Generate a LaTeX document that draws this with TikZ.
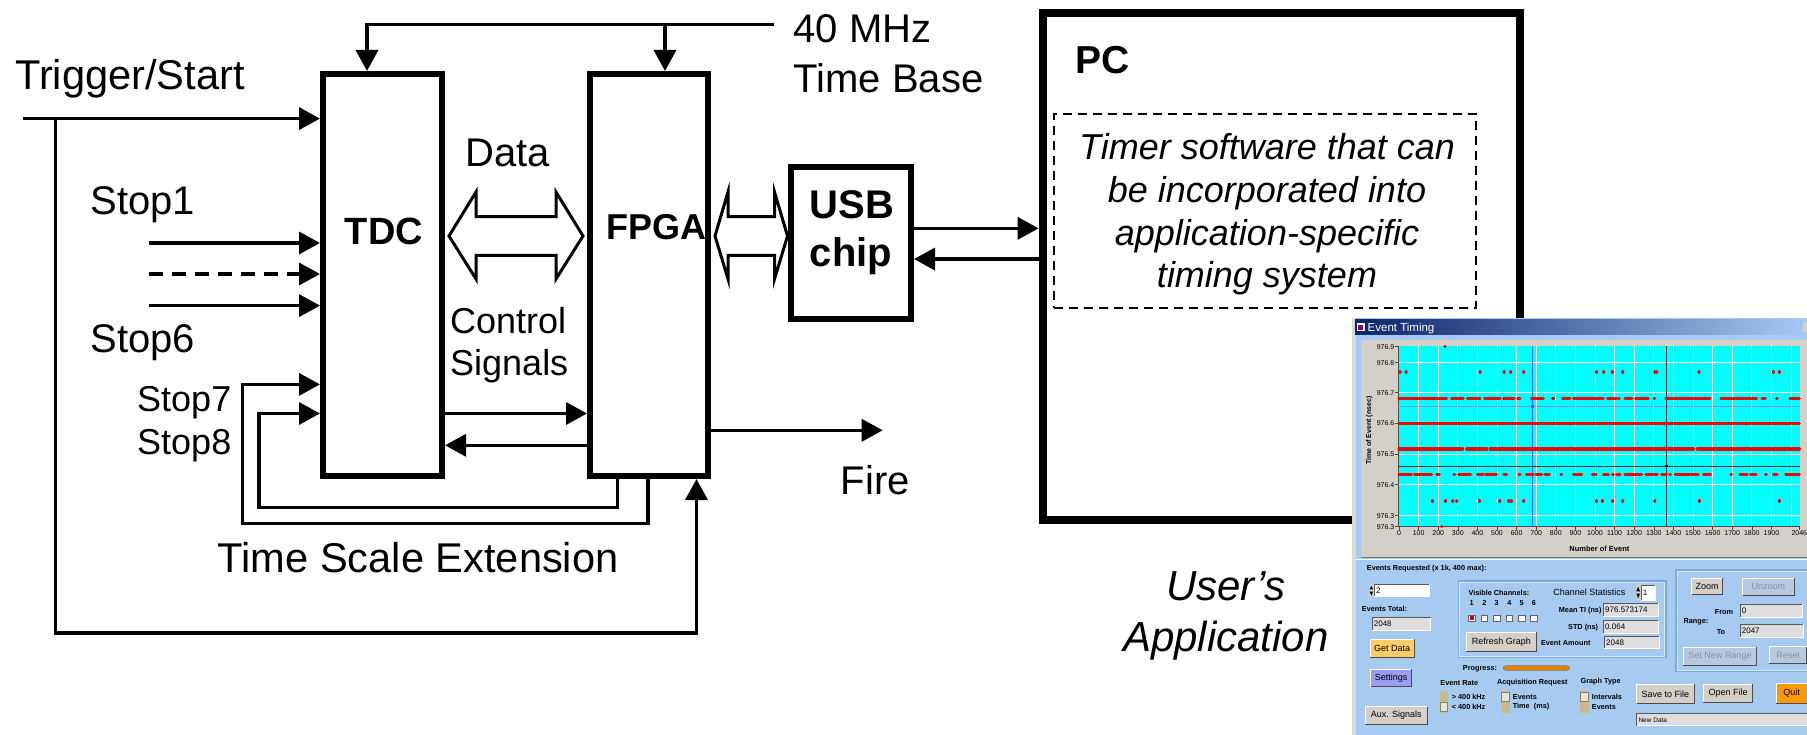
\documentclass[tikz,border=0pt]{standalone}
\usepackage{fontspec}
\setmainfont{Liberation Sans}
\usetikzlibrary{arrows.meta,calc}
\definecolor{wingray}{RGB}{212,208,200}
\definecolor{winblue}{RGB}{166,202,240}
\definecolor{titledark}{RGB}{10,36,106}
\definecolor{plotcyan}{RGB}{0,255,255}
\definecolor{dotred}{RGB}{255,0,0}
\definecolor{getdata}{RGB}{255,204,102}
\definecolor{settingsc}{RGB}{156,156,240}
\definecolor{quitc}{RGB}{255,153,0}
\definecolor{progc}{RGB}{224,128,0}
\definecolor{switchc}{RGB}{200,186,140}
\definecolor{knobc}{RGB}{236,228,204}
\definecolor{groupc}{RGB}{120,170,230}
\definecolor{disabledc}{RGB}{128,144,168}
\definecolor{disbtn}{RGB}{184,200,222}
\definecolor{cursorblue}{RGB}{70,100,255}
\newcommand\myfs[1]{\fontsize{#1}{#1}\selectfont}
\newcommand\mybtn[7]{%
  \fill[#5] (#1,#2) rectangle (#3,#4);
  \draw[white, line width=0.7pt] (#1,#4) -- (#1,#2) -- (#3,#2);
  \draw[black!70, line width=0.9pt] (#1,#4) -- (#3,#4) -- (#3,#2);
  \node[bt, text=#6] at ({(#1+#3)/2},{(#2+#4)/2}) {#7};}
\newcommand\mytbox[5]{%
  \fill[#5] (#1,#2) rectangle (#3,#4);
  \draw[black!65, line width=0.7pt] (#1,#4) -- (#1,#2) -- (#3,#2);
  \draw[white, line width=0.6pt] (#1,#4) -- (#3,#4) -- (#3,#2);}
\tikzset{
  blk/.style={draw, line width=6pt, inner sep=0pt},
  conn/.style={line width=3.5pt},
  arr/.style={conn, -{Triangle[length=21pt,width=22pt]}},
  hollow/.style={draw, line width=3pt, fill=white, line join=miter},
  lbl/.style={font={\myfs{40}}, inner sep=0pt, anchor=base west},
  ital/.style={font={\itshape\myfs{36}}, inner sep=0pt, anchor=base},
  redrun/.style={dotred, line width=3.2pt, line cap=round},
  ax/.style={font={\myfs{7}}, inner sep=0.5pt},
  sb/.style={font={\bfseries\myfs{7.3}}, inner sep=0pt},
  bt/.style={font={\myfs{9}}, inner sep=0pt},
  vt/.style={font={\myfs{8}}, inner sep=0pt, anchor=west}
}
\begin{document}
\begin{tikzpicture}[x=1pt,y=-1pt]
\useasboundingbox (0,0) rectangle (1807,735);
\fill[white] (0,0) rectangle (1807,735);

% ---------- blocks ----------
\node[blk, minimum width=119pt, minimum height=402pt] (tdc) at (382.5,275) {};
\node[blk, minimum width=118pt, minimum height=402pt] (fpga) at (649,275) {};
\node[blk, minimum width=120.5pt, minimum height=152.5pt] (usb) at (850.75,243.25) {};
\node[draw, line width=8pt, inner sep=0pt, minimum width=477.4pt, minimum height=506.6pt] (pc) at (1281.3,266.7) {};
\node[draw, line width=2pt, dash pattern=on 9pt off 6pt, inner sep=0pt, minimum width=422pt, minimum height=194pt] (sw) at (1265,211) {};

% ---------- block texts ----------
\node[font={\bfseries\myfs{38}}, inner sep=0pt, anchor=base] (tdct) at (384,245) {TDC};
\node[font={\bfseries\myfs{36}}, inner sep=0pt, anchor=base] (fpgat) at (656,240) {FPGA};
\node[font={\bfseries\myfs{40}}, inner sep=0pt, anchor=base] (usbt) at (852,219) {USB};
\node[font={\bfseries\myfs{40}}, inner sep=0pt, anchor=base] (chipt) at (851,267) {chip};
\node[font={\bfseries\myfs{39}}, inner sep=0pt, anchor=base west] (pct) at (1075,74) {PC};
\node[ital] (sw1) at (1267,159.4) {Timer software that can};
\node[ital] (sw2) at (1267,202.5) {be incorporated into};
\node[ital] (sw3) at (1267,246) {application-specific};
\node[ital] (sw4) at (1267,288) {timing system};
\node[ital, font={\itshape\myfs{42}}] (ua1) at (1226,600) {User’s};
\node[ital, font={\itshape\myfs{42}}] (ua2) at (1226,651.6) {Application};

% ---------- labels ----------
\node[lbl, font={\myfs{41.6}}] (trig) at (15,90) {Trigger/Start};
\node[lbl] (mhz) at (793.5,43) {40 MHz};
\node[lbl] (tbase) at (793.5,92.4) {Time Base};
\node[lbl] (data) at (465,167) {Data};
\node[lbl] (stop1) at (90.4,214.7) {Stop1};
\node[lbl] (stop6) at (90.4,352.5) {Stop6};
\node[lbl, font={\myfs{36}}] (stop7) at (137,411.6) {Stop7};
\node[lbl, font={\myfs{36}}] (stop8) at (137,454.7) {Stop8};
\node[lbl, font={\myfs{36}}] (ctrl) at (450,333.8) {Control};
\node[lbl, font={\myfs{36}}] (sig) at (450,375) {Signals};
\node[lbl] (fire) at (840.6,494.5) {Fire};
\node[lbl, font={\myfs{41.6}}] (tse) at (217.6,572.8) {Time Scale Extension};

% ---------- connectors ----------
\coordinate (clkend) at (773.5,24.4);
\draw[arr] (clkend) -| ([xshift=-15.5pt]tdc.north);
\coordinate (fpgaclk) at ([xshift=16pt]fpga.north);
\draw[arr] (fpgaclk |- clkend) -- (fpgaclk);

\coordinate (trigin) at (23.4,118.6);
\draw[arr] (trigin) -- (trigin -| tdc.west);
\coordinate (tjoin) at (55.6,118.6);
\coordinate (tbot) at (55.6,633);
\draw[arr] (tjoin) -- (tbot) -| ([xshift=47.5pt]fpga.south);

\coordinate (s1) at (148.7,243);
\coordinate (sd) at (148.7,274);
\coordinate (s6) at (148.7,305.6);
\draw[arr] (s1) -- (s1 -| tdc.west);
\draw[arr, dash pattern=on 14pt off 9pt] (sd) -- (sd -| tdc.west);
\draw[arr] (s6) -- (s6 -| tdc.west);

\coordinate (s7a) at (242.5,523.6);
\draw[arr] ([xshift=-1pt]fpga.south) |- (s7a) |- ([yshift=-109.4pt]tdc.west);
\coordinate (s8a) at (259,507.7);
\draw[arr] ([xshift=-31.5pt]fpga.south) |- (s8a) |- ([yshift=-138.5pt]tdc.west);

\draw[arr] ([yshift=-138.5pt]tdc.east) -- ([yshift=-138.5pt]fpga.west);
\draw[arr] ([yshift=-170.3pt]fpga.west) -- ([yshift=-170.3pt]tdc.east);
\coordinate (fireend) at (882.7,430.3);
\draw[arr] ([yshift=-155.3pt]fpga.east) -- (fireend);

\coordinate (u1) at ([yshift=14.9pt]usb.east);
\coordinate (u2) at ([yshift=-15.8pt]usb.east);
\draw[arr] (u1) -- (u1 -| pc.west);
\draw[arr] (u2 -| pc.west) -- (u2);

% hollow double arrows
\coordinate (dl) at ([xshift=4pt,yshift=39pt]tdc.east);
\coordinate (dr) at ([xshift=-4pt,yshift=39pt]fpga.west);
\draw[hollow] (dl) -- ++(27,-44) -- ++(0,24.6) -- ($(dr)+(-27,-19.4)$) -- ++(0,-24.6) -- (dr)
  -- ++(-27,43) -- ++(0,-23.5) -- ($(dl)+(27,19.5)$) -- ++(0,23.5) -- cycle;
\coordinate (ul) at ([xshift=4pt,yshift=39pt]fpga.east);
\coordinate (ur) at ([yshift=7.25pt]usb.west);
\draw[hollow] (ul) -- ++(13,-44) -- ++(0,24.6) -- ($(ur)+(-13,-19.4)$) -- ++(0,-24.6) -- (ur)
  -- ++(-13,43) -- ++(0,-23.5) -- ($(ul)+(13,19.5)$) -- ++(0,23.5) -- cycle;

% ---------- screenshot ----------
\begin{scope}
\clip (1352,318) rectangle (1807,735);
\fill[winblue] (1352,318) rectangle (1807,735);
\fill[black!15] (1352,318) rectangle (1356,735);
\shade[left color=titledark, right color=winblue] (1355,320) rectangle (1807,334.5);
\fill[white] (1356.5,323) rectangle (1364.5,331);
\fill[violet] (1358,325) rectangle (1363,329.5);
\node[font={\myfs{11.5}}, text=white, anchor=base west, inner sep=0pt] (ttl) at (1367.5,331.3) {Event Timing};
\fill[wingray] (1802.5,322) rectangle (1810,332);
\fill[wingray] (1360.7,340) rectangle (1807,557);
\draw[black!55, line width=1pt] (1360.7,557.5) -- (1807,557.5);
\draw[white, line width=0.8pt] (1356,559.5) -- (1807,559.5);

% plot (reference crop coordinates, 3x)
\begin{scope}[shift={(1340,310)}, scale=1/3]
\fill[plotcyan] (175,108) rectangle (1380,650);
\foreach \v in {100,200,...,2000} \draw[white, line width=0.9pt] ({177+\v*0.588},108) -- ({177+\v*0.588},650);
\foreach \yy in {158,248,340,433,524,617} \draw[white, line width=0.9pt] (175,\yy) -- (1380,\yy);
\draw[black!70, line width=0.6pt] (175,108) -- (175,650) -- (1380,650);
\foreach \yy/\t in {110/976.9,158/976.8,248/976.7,340/976.6,433/976.5,524/976.4,617/976.3,650/976.3} {
  \draw[black!70, line width=0.5pt] (165,\yy) -- (175,\yy);
  \node[ax, anchor=east] at (165,\yy) {\t};}
\foreach \v in {0,100,...,1900} {
  \draw[black!70, line width=0.5pt] ({177+\v*0.588},650) -- ({177+\v*0.588},660);
  \node[ax, anchor=north] at ({177+\v*0.588},661) {\v};}
\draw[black!70, line width=0.5pt] (1378,650) -- (1378,660);
\node[ax, anchor=north] at (1378,661) {2046};
\node[font={\bfseries\myfs{7.5}}, inner sep=0pt] (xlab) at (778,715) {Number of Event};
\node[font={\bfseries\myfs{7}}, inner sep=0pt, rotate=90] (ylab) at (88,362) {Time of Event (nsec)};
% cursors
\draw[cursorblue, line width=1pt] (577,108) -- (577,650);
\draw[cursorblue!70, line width=0.8pt] (175,290) -- (1380,290);
\draw[black!80, line width=0.8pt] (978,108) -- (978,650);
\draw[black!80, line width=0.8pt] (175,468) -- (1380,468);
% data
\draw[redrun] (177,340) -- (1378,340);
\foreach \a/\b in {177/368,380/440,450/1060,1072/1378} \draw[redrun] (\a,417) -- (\b,417);
\foreach \a/\b in {177/320,334/370,382/420,434/480,490/522,533/540,574/610,637/642,668/690,700/790,802/830,836/838,855/876,886/925,942/944,978/1110,1143/1250,1266/1276,1310/1312,1350/1378}
  \draw[redrun] (\a,265) -- (\b,265);
\foreach \a/\b in {177/215,223/275,290/298,342/344,355/392,412/430,437/470,492/500,537/540,560/580,588/605,615/628,663/665,700/725,757/768,790/805,817/820,830/840,855/905,918/952,965/980,990/992,1005/1050,1055/1075,1090/1112,1173/1175,1200/1222,1232/1248,1277/1279,1300/1312,1337/1378}
  \draw[redrun] (\a,493) -- (\b,493);
\foreach \a in {180,198,420,492,512,551,769,791,817,848,944,950,1077,1300,1318}
  \draw[redrun] (\a,186) -- ++(0.2,0);
\foreach \a in {277,316,338,350,418,479,506,514,551,769,787,818,848,944,1078,1318}
  \draw[redrun] (\a,573) -- ++(0.2,0);
\draw[redrun] (315,110) -- ++(0.2,0);
\draw[redrun] (305,650) -- ++(0.2,0);
\fill[cursorblue] (572,285) rectangle (582,295);
\fill[black] (974,464) rectangle (983,472);
\end{scope}

% control panel (reference crop coordinates, 3x)
\begin{scope}[shift={(1340,550)}, scale=1/3]
\node[sb, anchor=west] (evreq) at (80,55) {Events Requested (x 1k, 400 max):};
\fill[wingray] (87,103) rectangle (101,140);
\fill[black] (89,118) -- (99,118) -- (94,107) -- cycle;
\fill[black] (89,125) -- (99,125) -- (94,137) -- cycle;
\mytbox{103}{103}{268}{140}{white}
\node[vt] at (108,122) {2};
\node[sb, anchor=west] (evtot) at (65,177) {Events Total:};
\mytbox{97}{203}{272}{240}{black!13}
\node[vt] at (101,222) {2048};
\mybtn{90}{268}{222}{322}{getdata}{black}{Get Data}
\mybtn{92}{358}{215}{410}{settingsc}{black}{Settings}
\mybtn{75}{470}{262}{522}{wingray}{black}{Aux. Signals}
\draw[groupc, line width=1.2pt] (355,93) rectangle (978,323);
\draw[white!60!winblue, line width=0.8pt] (359,97) rectangle (974,319);
\node[sb, anchor=west] (vis) at (385,130) {Visible Channels:};
\foreach \n/\xx in {1/395,2/433,3/470,4/508,5/545,6/582} {
  \node[sb] at (\xx,160) {\n};
  \draw[fill=white, draw=black!60, line width=0.5pt] (\xx-10,195) rectangle (\xx+10,215);}
\fill[red!85!black] (389,199) rectangle (401,211);
\mybtn{378}{247}{590}{305}{wingray}{black}{Refresh Graph}
\node[bt] (chst) at (748,128) {Channel Statistics};
\fill[wingray] (887,105) rectangle (902,150);
\fill[black] (889,124) -- (900,124) -- (894.5,110) -- cycle;
\fill[black] (889,131) -- (900,131) -- (894.5,145) -- cycle;
\mytbox{903}{105}{945}{150}{white}
\node[vt] at (908,128) {1};
\node[sb, anchor=east] at (785,183) {Mean TI (ns)};
\mytbox{790}{160}{955}{200}{black!13}
\node[vt] at (795,180) {976.573174};
\node[sb, anchor=east] at (775,232) {STD (ns)};
\mytbox{790}{212}{955}{250}{black!13}
\node[vt] at (795,231) {0.064};
\node[sb, anchor=east] at (752,278) {Event Amount};
\mytbox{793}{258}{958}{296}{black!13}
\node[vt] at (798,277) {2048};
\draw[groupc, line width=1.2pt] (1008,60) rectangle (1430,365);
\draw[white!60!winblue, line width=0.8pt] (1012,64) rectangle (1430,361);
\mybtn{1055}{85}{1148}{133}{wingray}{black}{Zoom}
\mybtn{1208}{85}{1362}{135}{disbtn}{disabledc}{Unzoom}
\node[sb, anchor=east] at (1180,185) {From};
\mytbox{1200}{162}{1388}{202}{black!13}
\node[vt] at (1205,182) {0};
\node[sb, anchor=west] at (1030,215) {Range:};
\node[sb] at (1143,245) {To};
\mytbox{1200}{223}{1390}{262}{black!13}
\node[vt] at (1205,243) {2047};
\mybtn{1030}{292}{1250}{345}{disbtn}{disabledc}{Set New Range}
\mybtn{1288}{290}{1400}{340}{disbtn}{disabledc}{Reset}
\node[sb] at (420,355) {Progress:};
\draw[fill=progc, draw=black!50, line width=0.6pt, rounded corners=3pt] (490,347) rectangle (688,362);
\node[sb] at (358,398) {Event Rate};
\node[sb] at (577,398) {Acquisition Request};
\node[sb] at (782,396) {Graph Type};
\fill[switchc] (300,423) rectangle (325,488);
\draw[fill=knobc, draw=switchc!70!black, line width=0.5pt] (302,457) rectangle (323,485);
\fill[switchc] (482,423) rectangle (510,488);
\draw[fill=knobc, draw=switchc!70!black, line width=0.5pt] (484,426) rectangle (508,454);
\fill[switchc] (720,423) rectangle (748,488);
\draw[fill=knobc, draw=switchc!70!black, line width=0.5pt] (722,426) rectangle (746,454);
\node[sb, anchor=west] at (335,440) {> 400 kHz};
\node[sb, anchor=west] at (335,470) {< 400 kHz};
\node[sb, anchor=west] at (518,440) {Events};
\node[sb, anchor=west] at (518,470) {Time\ \ (ms)};
\node[sb, anchor=west] at (755,442) {Intervals};
\node[sb, anchor=west] at (755,472) {Events};
\mybtn{890}{403}{1062}{460}{wingray}{black}{Save to File}
\mybtn{1090}{403}{1238}{458}{wingray}{black}{Open File}
\mybtn{1308}{400}{1402}{460}{quitc}{black}{Quit}
\mytbox{890}{490}{1430}{527}{black!13}
\node[font={\myfs{6.5}}, inner sep=0pt, anchor=west] (status) at (895,510) {New Data};
\end{scope}
\end{scope}
\end{tikzpicture}
\end{document}
